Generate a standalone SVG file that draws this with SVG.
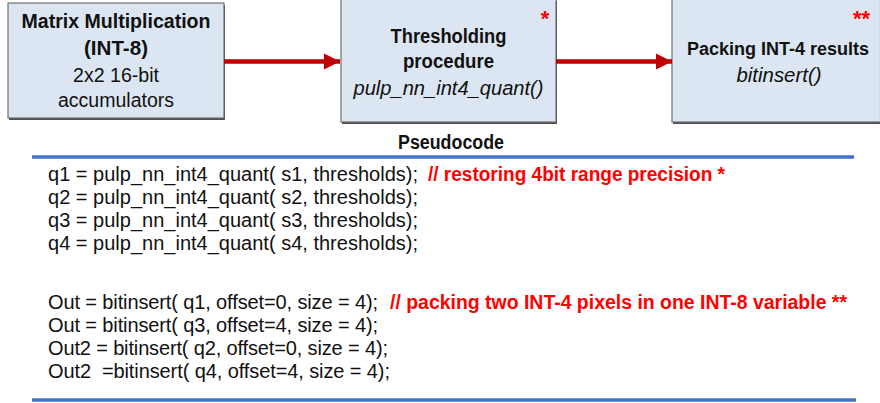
<svg xmlns="http://www.w3.org/2000/svg" width="880" height="403" viewBox="0 0 880 403">
  <defs>
    <style>
      .box { fill: #dce6f2; stroke: #6f6f6f; stroke-width: 1.2; }
      .shadow { fill: #4d4d4d; }
      .t { font-family: "Liberation Sans", Arial, sans-serif; fill: #111111; }
      .b { font-weight: bold; }
      .i { font-style: italic; }
      .mid { text-anchor: middle; }
      .code { font-family: "Liberation Sans", Arial, sans-serif; font-size: 20px; fill: #111111; }
      .note { font-family: "Liberation Sans", Arial, sans-serif; font-size: 20px; font-weight: bold; fill: #ff0000; }
      .star { font-family: "Liberation Sans", Arial, sans-serif; font-size: 22px; font-weight: bold; fill: #ff0000; }
      .flow { stroke: #c00000; stroke-width: 4.5; fill: none; }
      .rule { stroke: #4472c4; stroke-width: 3.5; }
    </style>
    <marker id="head" viewBox="0 0 10 10" refX="10" refY="5" markerWidth="3.6" markerHeight="3.6" markerUnits="strokeWidth" orient="auto">
      <path d="M0,0 L10,5 L0,10 Z" fill="#c00000"/>
    </marker>
  </defs>

  <!-- Stage 1: matrix multiplication -->
  <g id="node-matmul">
    <rect class="shadow" x="9" y="5" width="216" height="115"/>
    <rect class="box" x="8" y="3" width="216" height="115"/>
    <text class="t b mid" x="116" y="28" font-size="19.5" textLength="189" lengthAdjust="spacingAndGlyphs">Matrix Multiplication</text>
    <text class="t b mid" x="116" y="54.5" font-size="19.5" textLength="64" lengthAdjust="spacingAndGlyphs">(INT-8)</text>
    <text class="t mid" x="116" y="82" font-size="20" textLength="86" lengthAdjust="spacingAndGlyphs">2x2 16-bit</text>
    <text class="t mid" x="116" y="107" font-size="20" textLength="116" lengthAdjust="spacingAndGlyphs">accumulators</text>
  </g>

  <!-- Stage 2: thresholding -->
  <g id="node-threshold">
    <rect class="shadow" x="342" y="1" width="215" height="123"/>
    <rect class="box" x="341" y="-1" width="215" height="123"/>
    <text class="t b mid" x="448.5" y="43" font-size="19.5" textLength="116" lengthAdjust="spacingAndGlyphs">Thresholding</text>
    <text class="t b mid" x="448.5" y="68" font-size="19.5" textLength="91" lengthAdjust="spacingAndGlyphs">procedure</text>
    <text class="t i mid" x="448.5" y="95" font-size="20" textLength="190" lengthAdjust="spacingAndGlyphs">pulp_nn_int4_quant()</text>
    <text class="star mid" x="545" y="26">*</text>
  </g>

  <!-- Stage 3: packing (box runs up to the right edge) -->
  <g id="node-packing">
    <rect class="shadow" x="673" y="1" width="208" height="123"/>
    <rect class="box" x="672" y="-1" width="208.5" height="123"/>
    <text class="t b mid" x="778" y="55" font-size="18" textLength="182" lengthAdjust="spacingAndGlyphs">Packing INT-4 results</text>
    <text class="t i mid" x="779" y="82" font-size="20" textLength="85" lengthAdjust="spacingAndGlyphs">bitinsert()</text>
    <text class="star" x="853" y="26">**</text>
  </g>

  <!-- Flow arrows between stages -->
  <g id="connectors">
    <line class="flow" x1="224" y1="61.5" x2="340" y2="61.5" marker-end="url(#head)"/>
    <line class="flow" x1="556" y1="61.5" x2="672" y2="61.5" marker-end="url(#head)"/>
  </g>

  <!-- Pseudocode listing -->
  <g id="pseudocode">
    <text class="t b mid" x="451" y="149" font-size="19.5" textLength="106" lengthAdjust="spacingAndGlyphs">Pseudocode</text>
    <line class="rule" x1="32" y1="157" x2="854" y2="157"/>

    <text class="code" x="48" y="181" textLength="370" xml:space="preserve">q1 = pulp_nn_int4_quant( s1, thresholds);</text>
    <text class="note" x="428" y="181" textLength="297" lengthAdjust="spacingAndGlyphs" xml:space="preserve">// restoring 4bit range precision *</text>
    <text class="code" x="48" y="204" textLength="370" xml:space="preserve">q2 = pulp_nn_int4_quant( s2, thresholds);</text>
    <text class="code" x="48" y="227" textLength="370" xml:space="preserve">q3 = pulp_nn_int4_quant( s3, thresholds);</text>
    <text class="code" x="48" y="250" textLength="370" xml:space="preserve">q4 = pulp_nn_int4_quant( s4, thresholds);</text>

    <text class="code" x="48" y="309" textLength="330" xml:space="preserve">Out = bitinsert( q1, offset=0, size = 4);</text>
    <text class="note" x="390" y="309" textLength="457" lengthAdjust="spacingAndGlyphs" xml:space="preserve">// packing two INT-4 pixels in one INT-8 variable **</text>
    <text class="code" x="48" y="332" textLength="330" xml:space="preserve">Out = bitinsert( q3, offset=4, size = 4);</text>
    <text class="code" x="48" y="355" textLength="340" xml:space="preserve">Out2 = bitinsert( q2, offset=0, size = 4);</text>
    <text class="code" x="48" y="378" textLength="342" xml:space="preserve">Out2  =bitinsert( q4, offset=4, size = 4);</text>

    <line class="rule" x1="32" y1="400" x2="856" y2="400"/>
  </g>
</svg>
